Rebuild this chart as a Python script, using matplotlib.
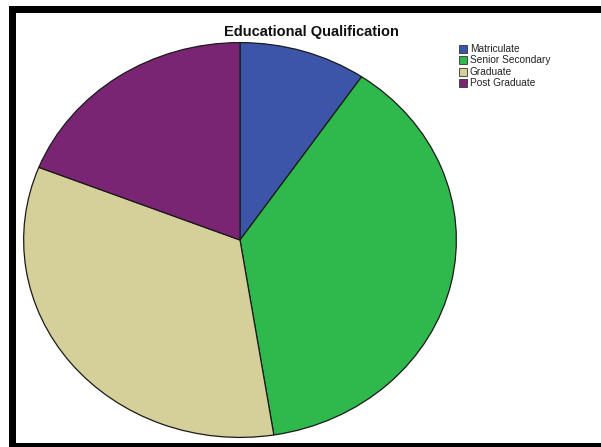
import numpy as np
import matplotlib.pyplot as plt
from matplotlib.patches import Rectangle

# Educational qualification, percent of respondents
labels = ["Matriculate", "Senior Secondary", "Graduate", "Post Graduate"]
shares = [9.5, 38, 33.5, 19]
colors = ["#3c55a9", "#2fb84b", "#d5cf99", "#7a2574"]

W, H = 601, 447
fig = plt.figure(figsize=(W / 100, H / 100), dpi=100)
fig.patch.set_facecolor("white")

# pie area in pixels (left, top, right, bottom)
x0, y0, x1, y1 = 23, 42, 457, 438
ax = fig.add_axes([x0 / W, 1 - y1 / H, (x1 - x0) / W, (y1 - y0) / H])
ax.pie(shares, colors=colors, startangle=90, counterclock=False,
       wedgeprops=dict(edgecolor="#1a1a1a", linewidth=0.9))
ax.set_aspect("auto")
ax.set_xlim(-1.003, 1.003)
ax.set_ylim(-1.003, 1.003)
ax.axis("off")

fig.text(311 / W, 1 - 32 / H, "Educational Qualification", ha="center", va="center",
         fontsize=10.5, fontweight="bold", family="Liberation Sans", color="#111111")

# legend boxes
for i, (lab, col) in enumerate(zip(labels, colors)):
    yc = 49 + i * 11.3
    fig.patches.append(Rectangle((459 / W, 1 - (yc + 4) / H), 8 / W, 8 / H,
                                 transform=fig.transFigure, facecolor=col,
                                 edgecolor="#333333", linewidth=0.6))
    fig.text(470 / W, 1 - yc / H, lab, ha="left", va="center",
             fontsize=7.3, family="Liberation Sans", color="#222222")

# heavy frame along top, left and bottom
frame = dict(transform=fig.transFigure, facecolor="black", edgecolor="none")
fig.patches.append(Rectangle((9 / W, 1 - 13 / H), (W - 9) / W, 7 / H, **frame))
fig.patches.append(Rectangle((9 / W, 0), 7 / W, 1 - 6 / H, **frame))
fig.patches.append(Rectangle((9 / W, 0), (W - 9) / W, 4 / H, **frame))

fig.savefig("out.png", dpi=100)
